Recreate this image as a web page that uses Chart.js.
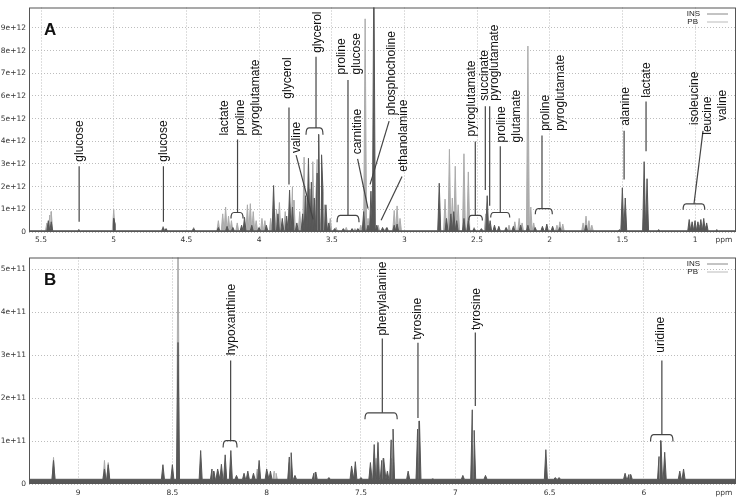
<!DOCTYPE html>
<html lang="en">
<head>
<meta charset="UTF-8">
<title>1H NMR spectra - INS vs PB</title>
<style>
  html, body { margin: 0; padding: 0; background: #fff; }
  #wrap { position: relative; width: 738px; height: 498px; }
  canvas { position: absolute; left: 0; }
  #chartA { top: 0; }
  #chartB { top: 250px; }
</style>
<script src="https://cdn.jsdelivr.net/npm/chart.js"></script>
</head>
<body>
<div id="wrap">
  <canvas id="chartA" width="738" height="250"></canvas>
  <canvas id="chartB" width="738" height="248"></canvas>
</div>
<script>
// ---- Panel A (aliphatic region), intensity in units of 1e12
const insPpmA = [5.45, 5.43, 5.24, 5.00, 4.99, 4.66, 4.64, 4.45, 4.28, 4.22, 4.18, 4.12, 4.10, 4.05, 4.00, 3.95,
  3.90, 3.87, 3.84, 3.81, 3.79, 3.77, 3.74, 3.70, 3.68, 3.66, 3.64, 3.62, 3.60, 3.59, 3.57, 3.56, 3.54, 3.52,
  3.48, 3.42, 3.36, 3.32, 3.28, 3.25, 3.23, 3.21, 3.19, 3.15, 3.12, 3.07, 3.05, 2.76, 2.71, 2.68, 2.66, 2.64,
  2.59, 2.56, 2.52, 2.47, 2.43, 2.41, 2.38, 2.35, 2.30, 2.25, 2.20, 2.15, 2.10, 2.05, 2.02, 1.98, 1.93, 1.75,
  1.52, 1.50, 1.48, 1.35, 1.33, 1.25, 1.04, 1.02, 1.00, 0.98, 0.96, 0.94, 0.92, 0.85];
const insIntA = [0.5, 0.45, 0.1, 0.6, 0.35, 0.2, 0.15, 0.15, 0.2, 0.25, 0.2, 0.3, 0.65, 0.3, 0.2, 0.3,
  2.05, 0.8, 0.6, 0.7, 1.85, 1.1, 0.4, 0.8, 1.6, 3.25, 2.2, 1.5, 2.6, 4.3, 3.4, 1.8, 1.2, 0.4,
  0.15, 0.15, 0.15, 0.15, 0.9, 0.3, 1.8, 12, 0.3, 0.2, 0.2, 0.3, 0.35, 2.15, 0.6, 0.8, 0.9, 0.5,
  0.6, 0.5, 0.15, 0.15, 1.6, 0.5, 0.3, 0.25, 0.2, 0.25, 0.3, 0.3, 0.2, 0.25, 0.35, 0.25, 0.2, 0.3,
  0.1, 1.95, 1.5, 3.1, 2.35, 0.1, 0.55, 0.45, 0.5, 0.45, 0.55, 0.6, 0.4, 0.1];
const pbPpmA = [5.46, 5.44, 5.43, 5.24, 5.00, 4.66, 4.45, 4.28, 4.25, 4.23, 4.21, 4.19, 4.15, 4.08, 4.06, 4.04,
  4.02, 3.98, 3.96, 3.92, 3.88, 3.86, 3.82, 3.77, 3.76, 3.72, 3.69, 3.67, 3.65, 3.63, 3.61, 3.60, 3.57, 3.55,
  3.51, 3.47, 3.40, 3.34, 3.30, 3.27, 3.25, 3.22, 3.18, 3.13, 3.07, 3.05, 3.03, 2.76, 2.72, 2.69, 2.67, 2.65,
  2.63, 2.59, 2.56, 2.52, 2.44, 2.42, 2.38, 2.28, 2.24, 2.21, 2.19, 2.15, 2.13, 2.11, 2.05, 1.95, 1.93, 1.91,
  1.77, 1.75, 1.73, 1.71, 1.50, 1.48, 1.35, 1.33, 1.02, 0.97, 0.93];
const pbIntA = [0.4, 0.75, 0.9, 0.1, 1.0, 0.25, 0.2, 0.5, 0.8, 1.1, 0.7, 0.5, 0.4, 1.2, 1.25, 0.9,
  0.5, 0.6, 0.5, 0.6, 1.0, 1.3, 0.9, 2.0, 1.4, 0.9, 3.3, 1.5, 1.9, 3.1, 1.4, 3.2, 1.0, 1.2,
  0.6, 0.2, 0.2, 0.15, 0.3, 9.4, 0.6, 0.8, 0.3, 0.15, 0.95, 1.15, 0.6, 1.2, 1.45, 3.65, 1.5, 2.9,
  1.2, 3.45, 2.65, 0.2, 0.8, 0.3, 0.2, 0.3, 0.45, 0.6, 0.4, 8.2, 1.1, 0.4, 0.2, 0.3, 0.45, 0.35,
  0.4, 0.7, 0.5, 0.3, 0.8, 0.5, 1.2, 0.8, 0.3, 0.3, 0.25];
const xTicksA = [5.5, 5, 4.5, 4, 3.5, 3, 2.5, 2, 1.5, 1];
const yTicksA = [0, 1, 2, 3, 4, 5, 6, 7, 8, 9];

// ---- Panel B (aromatic region), intensity in units of 1e11
const insPpmB = [9.13, 8.86, 8.84, 8.55, 8.50, 8.47, 8.35, 8.29, 8.28, 8.26, 8.24, 8.22, 8.19, 8.16, 8.12, 8.10,
  8.07, 8.04, 8.00, 7.98, 7.88, 7.87, 7.85, 7.75, 7.74, 7.67, 7.55, 7.53, 7.50, 7.45, 7.43, 7.41, 7.39, 7.38,
  7.36, 7.34, 7.33, 7.25, 7.20, 7.19, 7.12, 6.96, 6.91, 6.90, 6.84, 6.52, 6.47, 6.45, 6.10, 6.08, 6.07,
  5.92, 5.91, 5.89, 5.81, 5.79];
const insIntB = [0.55, 0.35, 0.45, 0.45, 0.45, 3.3, 0.78, 0.35, 0.3, 0.35, 0.46, 0.68, 0.78, 0.2, 0.25, 0.3,
  0.25, 0.55, 0.35, 0.3, 0.63, 0.73, 0.2, 0.25, 0.28, 0.15, 0.42, 0.52, 0.15, 0.5, 0.92, 0.97, 0.55, 0.6,
  0.3, 1.03, 1.28, 0.3, 1.28, 1.47, 0.12, 0.2, 1.73, 1.25, 0.2, 0.8, 0.15, 0.15, 0.25, 0.22, 0.22,
  0.64, 1.01, 0.74, 0.3, 0.35];
const pbPpmB = [9.13, 8.86, 8.84, 8.47, 8.26, 8.05, 7.96, 7.95, 7.88, 7.45, 7.42, 7.34, 7.20, 6.91, 5.91];
const pbIntB = [0.62, 0.55, 0.5, 6.0, 0.3, 0.35, 0.3, 0.25, 0.5, 0.4, 0.6, 0.6, 0.7, 0.9, 0.5];
const xTicksB = [9, 8.5, 8, 7.5, 7, 6.5, 6];
const yTicksB = [0, 1, 2, 3, 4, 5];

const insColor = '#575757';
const pbColor = '#acacac';

// annotations: [text, ppm, value at text start], leader lines, braces
const labelsA = [['glucose', 5.235, 3.1], ['glucose', 4.654, 3.1], ['lactate', 4.234, 4.25], ['proline', 4.124, 4.25],
  ['pyroglutamate', 4.021, 4.25], ['glycerol', 3.800, 5.88], ['valine', 3.739, 3.48], ['glycerol', 3.594, 7.90],
  ['proline', 3.429, 6.95], ['glucose', 3.326, 6.95], ['carnitine', 3.319, 3.43], ['phosphocholine', 3.085, 5.15],
  ['ethanolamine', 3.002, 2.66], ['pyroglutamate', 2.534, 4.21], ['succinate', 2.445, 5.79], ['pyroglutamate', 2.376, 5.79],
  ['proline', 2.328, 3.95], ['glutamate', 2.225, 3.95], ['proline', 2.025, 4.46], ['pyroglutamate', 1.922, 4.46],
  ['alanine', 1.477, 4.68], ['lactate', 1.330, 5.92], ['isoleucine', 1.002, 4.72], ['leucine', 0.911, 4.29], ['valine', 0.808, 4.89]];
const linesA = [[5.238, 2.9, 5.238, 0.45], [4.658, 2.9, 4.658, 0.45], [4.148, 4.08, 4.148, 0.86], [3.794, 5.49, 3.794, 2.10],
  [3.745, 3.39, 3.628, 0.56], [3.608, 7.73, 3.608, 4.59], [3.388, 6.70, 3.388, 0.73], [3.322, 3.22, 3.250, 1.03],
  [3.105, 4.89, 3.236, 2.10], [3.016, 2.45, 3.160, 0.52], [2.512, 3.99, 2.512, 0.73], [2.443, 5.54, 2.443, 1.85],
  [2.413, 5.54, 2.413, 1.16], [2.340, 3.78, 2.340, 0.86], [2.053, 4.25, 2.053, 1.03], [1.488, 4.46, 1.488, 2.32],
  [1.337, 5.75, 1.337, 3.56], [0.945, 4.46, 1.007, 1.24]];
const bracesA = [[4.193, 4.110, 0.86, 0.26], [3.677, 3.560, 4.59, 0.30], [3.463, 3.312, 0.73, 0.30], [2.557, 2.463, 0.73, 0.22],
  [2.406, 2.275, 0.86, 0.22], [2.099, 1.982, 1.03, 0.25], [1.082, 0.933, 1.24, 0.26]];

const labelsB = [['hypoxanthine', 8.185, 3.00], ['phenylalanine', 7.383, 3.46], ['tyrosine', 7.198, 3.36],
  ['tyrosine', 6.885, 3.59], ['uridine', 5.912, 3.06]];
const linesB = [[8.191, 2.88, 8.191, 1.01], [7.387, 3.39, 7.387, 1.66], [7.198, 3.29, 7.198, 1.54],
  [6.894, 3.53, 6.894, 1.82], [5.905, 2.88, 5.905, 1.15]];
const bracesB = [[8.231, 8.157, 1.01, 0.16], [7.479, 7.308, 1.66, 0.15], [5.965, 5.846, 1.15, 0.16]];

// turn a peak list into a stick-like trace the line element can draw
function trace(ppm, vals, base, w, xmin, xmax) {
  const pts = [{x: xmin, y: base}, {x: xmax, y: base}];
  ppm.forEach((p, i) => {
    pts.push({x: p + w, y: base}, {x: p, y: vals[i]}, {x: p - w, y: base});
  });
  return pts.sort((a, b) => a.x - b.x);
}

const tickFont = {family: '"DejaVu Sans", sans-serif', size: 7.5};

const decor = {
  id: 'decor',
  afterDatasetsDraw(chart, args, o) {
    const {ctx, chartArea: a, scales: {x, y}} = chart;
    const px = v => x.getPixelForValue(v);
    const py = v => y.getPixelForValue(v);
    ctx.save();
    // frame
    ctx.strokeStyle = '#555';
    ctx.lineWidth = 1;
    ctx.strokeRect(a.left + 0.5, a.top + 0.5, a.right - a.left - 1, a.bottom - a.top - 1);

    // leader lines and braces
    ctx.strokeStyle = '#444';
    ctx.lineWidth = 1.2;
    o.lines.forEach(l => {
      ctx.beginPath();
      ctx.moveTo(px(l[0]), py(l[1]));
      ctx.lineTo(px(l[2]), py(l[3]));
      ctx.stroke();
    });
    o.braces.forEach(b => {
      const l = Math.min(px(b[0]), px(b[1])), r = Math.max(px(b[0]), px(b[1]));
      const yy = py(b[2]), yd = py(b[2] - b[3]);
      ctx.beginPath();
      ctx.moveTo(l, yd);
      ctx.quadraticCurveTo(l, yy, l + 3, yy);
      ctx.lineTo(r - 3, yy);
      ctx.quadraticCurveTo(r, yy, r, yd);
      ctx.stroke();
    });

    // rotated metabolite names
    ctx.fillStyle = '#111';
    ctx.font = '12px "Liberation Sans", Arial, sans-serif';
    ctx.textAlign = 'left';
    ctx.textBaseline = 'middle';
    o.labels.forEach(t => {
      ctx.save();
      ctx.translate(px(t[1]), py(t[2]));
      ctx.rotate(-Math.PI / 2);
      ctx.fillText(t[0], 0, 0);
      ctx.restore();
    });

    // panel letter
    ctx.font = 'bold 17px "Liberation Sans", Arial, sans-serif';
    ctx.textBaseline = 'alphabetic';
    ctx.fillText(o.letter, 44, a.top + 27);

    // legend
    ctx.font = '8px "Liberation Sans", Arial, sans-serif';
    ctx.fillStyle = '#222';
    ctx.textBaseline = 'middle';
    ctx.textAlign = 'right';
    ctx.fillText('INS', 700, a.top + 6);
    ctx.fillText('PB', 698, a.top + 14);
    ctx.lineWidth = 1;
    ctx.strokeStyle = '#888';
    ctx.beginPath(); ctx.moveTo(707, a.top + 6.5); ctx.lineTo(728, a.top + 6.5); ctx.stroke();
    ctx.strokeStyle = '#bbb';
    ctx.beginPath(); ctx.moveTo(707, a.top + 14.5); ctx.lineTo(728, a.top + 14.5); ctx.stroke();

    // axis unit
    ctx.font = '7.5px "DejaVu Sans", sans-serif';
    ctx.fillStyle = '#333';
    ctx.textAlign = 'center';
    ctx.fillText('ppm', 724, a.bottom + o.unitGap);
    ctx.restore();
  }
};

function makeChart(id, cfg) {
  const base = cfg.base;
  return new Chart(document.getElementById(id), {
    type: 'line',
    data: {
      datasets: [
        {label: 'INS', data: trace(cfg.insPpm, cfg.insInt, base[0], cfg.w, cfg.xmin, cfg.xmax),
          borderColor: insColor, backgroundColor: insColor, borderWidth: 1, fill: 'origin'},
        {label: 'PB', data: trace(cfg.pbPpm, cfg.pbInt, base[1], cfg.w, cfg.xmin, cfg.xmax),
          borderColor: pbColor, backgroundColor: pbColor, borderWidth: 1, fill: 'origin'}
      ]
    },
    options: {
      responsive: false,
      animation: false,
      devicePixelRatio: 1,
      elements: {point: {radius: 0}, line: {tension: 0}},
      layout: {padding: {top: cfg.padTop, right: 2, left: 0, bottom: 0}},
      plugins: {
        legend: {display: false},
        tooltip: {enabled: false},
        decor: {lines: cfg.lines, braces: cfg.braces, labels: cfg.labels, letter: cfg.letter, unitGap: cfg.unitGap}
      },
      scales: {
        x: {
          type: 'linear', reverse: true, min: cfg.xmin, max: cfg.xmax,
          afterBuildTicks: s => { s.ticks = cfg.xTicks.map(v => ({value: v})); },
          afterFit: s => { s.height = cfg.xAxisH; },
          grid: {color: '#bdbdbd', drawTicks: false},
          border: {display: false, dash: [1, 2]},
          ticks: {font: tickFont, color: '#333', padding: cfg.tickPad, maxRotation: 0, autoSkip: false,
            callback: v => String(v)}
        },
        y: {
          min: 0, max: cfg.ymax,
          afterBuildTicks: s => { s.ticks = cfg.yTicks.map(v => ({value: v})); },
          afterFit: s => { s.width = 29; },
          grid: {color: '#bdbdbd', drawTicks: false},
          border: {display: false, dash: [1, 2]},
          ticks: {font: tickFont, color: '#333', padding: 3, autoSkip: false,
            callback: v => v === 0 ? '0' : v + cfg.exp}
        }
      }
    },
    plugins: [decor]
  });
}

makeChart('chartA', {
  insPpm: insPpmA, insInt: insIntA, pbPpm: pbPpmA, pbInt: pbIntA, base: [0.05, 0.04], w: 0.01,
  xmin: 0.718, xmax: 5.583, ymax: 9.9, xTicks: xTicksA, yTicks: yTicksA, exp: 'e+12',
  padTop: 1, xAxisH: 18, tickPad: 4, unitGap: 8,
  lines: linesA, braces: bracesA, labels: labelsA, letter: 'A'
});

makeChart('chartB', {
  insPpm: insPpmB, insInt: insIntB, pbPpm: pbPpmB, pbInt: pbIntB, base: [0.11, 0.07], w: 0.008,
  xmin: 5.512, xmax: 9.26, ymax: 5.28, xTicks: xTicksB, yTicks: yTicksB, exp: 'e+11',
  padTop: 4, xAxisH: 14, tickPad: 5, unitGap: 9,
  lines: linesB, braces: bracesB, labels: labelsB, letter: 'B'
});
</script>
</body>
</html>
